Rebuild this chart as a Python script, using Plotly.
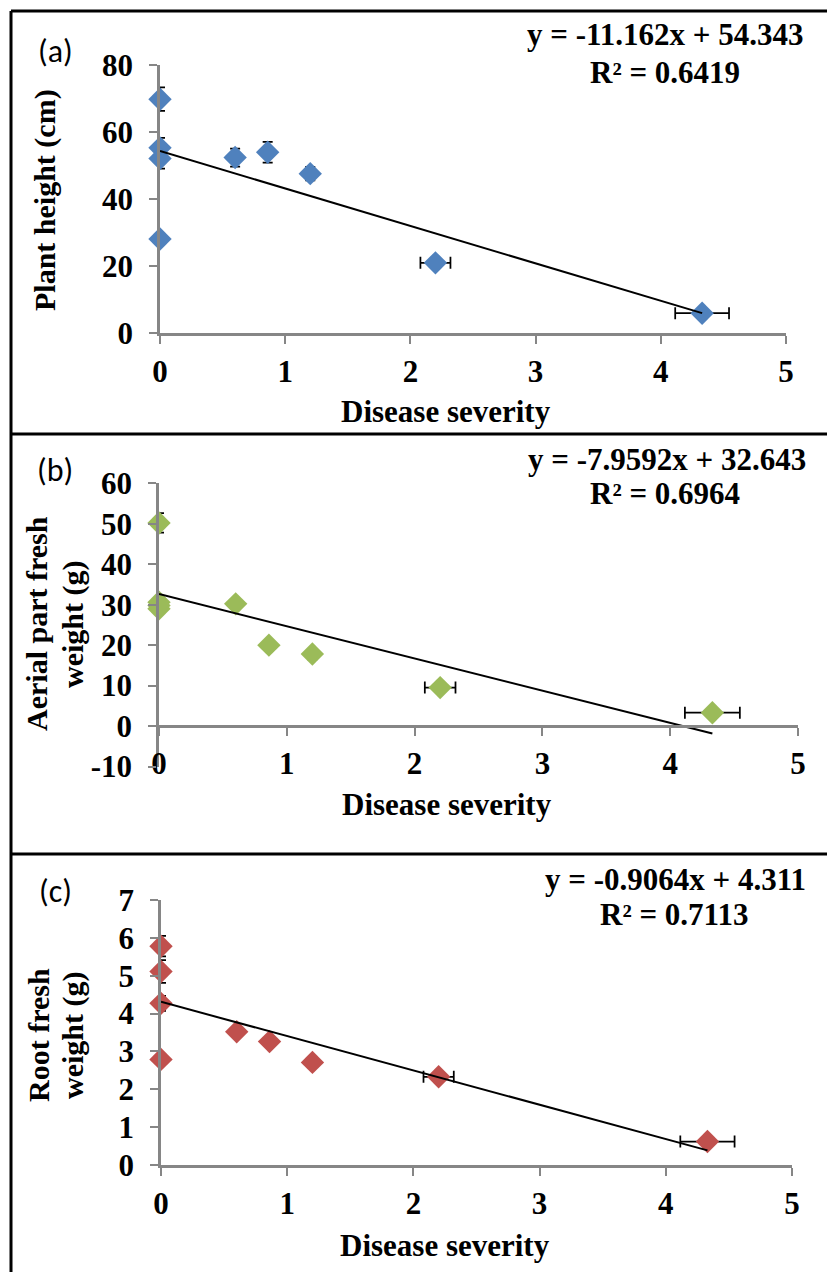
import plotly.graph_objects as go

W, H = 827, 1272

# ---------------- data ----------------
severity = [0, 0, 0, 0, 0.60, 0.86, 1.20, 2.20, 4.33]
severity_err = [0, 0, 0, 0, 0.02, 0.03, 0.03, 0.12, 0.215]

plant_height = [69.8, 55.3, 52.1, 28.1, 52.4, 54.0, 47.6, 21.0, 6.0]
plant_height_err = [3.5, 3.0, 3.0, 0.8, 2.7, 3.1, 2.0, 1.0, 1.0]

aerial_fw = [50.2, 30.6, 29.0, 29.8, 30.2, 20.0, 17.8, 9.5, 3.3]
aerial_fw_err = [2.4, 1.5, 1.0, 1.0, 1.0, 1.0, 1.3, 0.8, 0.8]

root_fw = [5.78, 5.11, 4.27, 2.79, 3.52, 3.26, 2.71, 2.33, 0.62]
root_fw_err = [0.27, 0.3, 0.2, 0.05, 0.1, 0.1, 0.1, 0.05, 0.05]

fits = {  # slope, intercept from the chart's trendline labels
    "a": (-11.162, 54.343),
    "b": (-7.9592, 32.643),
    "c": (-0.9064, 4.311),
}
eq_text = {
    "a": ("y = -11.162x + 54.343", "R² = 0.6419"),
    "b": ("y = -7.9592x + 32.643", "R² = 0.6964"),
    "c": ("y = -0.9064x + 4.311", "R² = 0.7113"),
}
x_ticks = [0, 1, 2, 3, 4, 5]
y_ticks_a = [0, 20, 40, 60, 80]
y_ticks_b = [-10, 0, 10, 20, 30, 40, 50, 60]
y_ticks_c = [0, 1, 2, 3, 4, 5, 6, 7]

# ---------------- style ----------------
SERIF = "Liberation Serif, Times New Roman, serif"
SANS = "Carlito, Liberation Sans, Arial, sans-serif"
AX = "#868686"
FS = 31
colors = {"a": "#4F81BD", "b": "#9BBB59", "c": "#C0504D"}


def px_x(p):
    return p / W


def px_y(p):
    return 1 - p / H


panels = {
    # x domain px, y domain px (top, bottom)
    "a": dict(xd=(160, 786), yd=(65, 333.3), yr=[0, 80], yt=y_ticks_a, y=plant_height, ye=plant_height_err),
    "b": dict(xd=(159, 798), yd=(483.3, 766.5), yr=[-10, 60], yt=y_ticks_b, y=aerial_fw, ye=aerial_fw_err),
    "c": dict(xd=(161, 792), yd=(900, 1165), yr=[0, 7], yt=y_ticks_c, y=root_fw, ye=root_fw_err),
}

fig = go.Figure()
layout = {}

for i, (k, p) in enumerate(panels.items(), start=1):
    xa = "x" if i == 1 else f"x{i}"
    ya = "y" if i == 1 else f"y{i}"
    fig.add_trace(go.Scatter(
        x=severity, y=p["y"], mode="markers", xaxis=xa, yaxis=ya,
        marker=dict(symbol="diamond", size=18, color=colors[k], line=dict(width=0)),
        error_y=dict(type="data", array=p["ye"], color="black", thickness=1.75, width=5),
        error_x=dict(type="data", array=severity_err, color="black", thickness=1.75, width=6),
        cliponaxis=False, showlegend=False,
    ))
    m, b = fits[k]
    xl = [min(severity), max(severity)]
    fig.add_trace(go.Scatter(
        x=xl, y=[m * v + b for v in xl], mode="lines", xaxis=xa, yaxis=ya,
        line=dict(color="black", width=2), cliponaxis=False, showlegend=False,
    ))
    xkey = "xaxis" if i == 1 else f"xaxis{i}"
    ykey = "yaxis" if i == 1 else f"yaxis{i}"
    y0, y1 = p["yd"]
    ydom = [px_y(y1), px_y(y0)]
    xaxis = dict(
        domain=[px_x(p["xd"][0]), px_x(p["xd"][1])], range=[0, 5],
        tickmode="array", tickvals=x_ticks, ticktext=[str(t) for t in x_ticks],
        showline=True, linecolor=AX, linewidth=2.5, ticks="outside", ticklen=8,
        tickwidth=2, tickcolor=AX, showgrid=False, zeroline=False,
        tickfont=dict(family=SERIF, size=FS, color="black", weight="bold"),
        ticklabelstandoff=1, fixedrange=True, automargin=False,
    )
    if k == "b":
        # x axis crosses the y axis at 0
        frac = (0 - p["yr"][0]) / (p["yr"][1] - p["yr"][0])
        xaxis.update(anchor="free", position=ydom[0] + frac * (ydom[1] - ydom[0]))
    else:
        xaxis.update(anchor=ya)
    layout[xkey] = xaxis
    layout[ykey] = dict(
        domain=ydom, range=p["yr"], anchor=xa,
        tickmode="array", tickvals=p["yt"], ticktext=[str(t) for t in p["yt"]],
        showline=True, linecolor=AX, linewidth=2.5, ticks="outside", ticklen=8,
        tickwidth=2, tickcolor=AX, showgrid=False, zeroline=False,
        tickfont=dict(family=SERIF, size=FS, color="black", weight="bold"),
        ticklabelstandoff=10, fixedrange=True, automargin=False,
    )

fig.update_layout(**layout)

ann = []


def txt(text, x, y, font, size, angle=0, bold=True):
    ann.append(dict(
        text=text, x=px_x(x), y=px_y(y), xref="paper", yref="paper",
        xanchor="center", yanchor="middle", showarrow=False, textangle=angle,
        font=dict(family=font, size=size, color="black", weight="bold" if bold else "normal"),
    ))


# panel labels
txt("(a)", 55, 52, SANS, 32, bold=False)
txt("(b)", 55, 471, SANS, 32, bold=False)
txt("(c)", 55, 891, SANS, 32, bold=False)

# trendline equations
txt(eq_text["a"][0], 665, 34.5, SERIF, FS)
txt(eq_text["a"][1], 665, 72.5, SERIF, FS)
txt(eq_text["b"][0], 667, 459, SERIF, FS)
txt(eq_text["b"][1], 665, 493, SERIF, FS)
txt(eq_text["c"][0], 675, 879, SERIF, FS)
txt(eq_text["c"][1], 674, 914, SERIF, FS)

# axis titles
txt("Disease severity", 446, 411, SERIF, FS)
txt("Disease severity", 447, 804, SERIF, FS)
txt("Disease severity", 445, 1245, SERIF, FS)
txt("Plant height (cm)", 45, 200, SERIF, 30, angle=-90)
txt("Aerial part fresh", 36, 624, SERIF, 30, angle=-90)
txt("weight (g)", 73, 625, SERIF, 30, angle=-90)
txt("Root fresh", 38, 1035, SERIF, 30, angle=-90)
txt("weight (g)", 73, 1036, SERIF, 30, angle=-90)

# outer frame and panel dividers
shapes = []
for (x0, y0, x1, y1) in [(11, 11, 840, 11), (11, 11, 11, 1290), (11, 434, 840, 434), (11, 854, 840, 854)]:
    shapes.append(dict(type="line", xref="paper", yref="paper",
                       x0=px_x(x0), y0=px_y(y0), x1=px_x(x1), y1=px_y(y1),
                       line=dict(color="black", width=3)))

fig.update_layout(
    width=W, height=H, margin=dict(l=0, r=0, t=0, b=0, pad=0, autoexpand=False),
    paper_bgcolor="white", plot_bgcolor="white",
    annotations=ann, shapes=shapes, showlegend=False,
)

# remove page margins so the page is exactly the figure's size
post = """
document.documentElement.style.margin='0';
document.documentElement.style.overflow='hidden';
document.body.style.margin='0';
document.body.style.overflow='hidden';
var gd=document.getElementById('{plot_id}');
gd.style.position='fixed';gd.style.left='0px';gd.style.top='0px';
"""
fig.write_html("out.html", config={"displayModeBar": False}, post_script=post)
